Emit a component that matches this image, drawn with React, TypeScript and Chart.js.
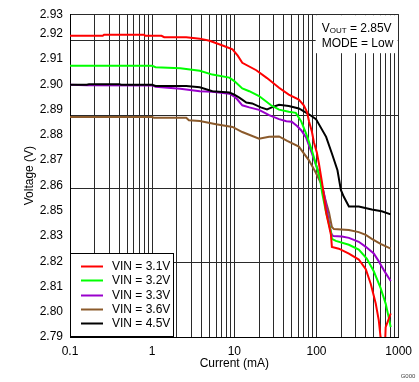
import React, { useEffect, useRef } from 'react';
import { Chart, registerables } from 'chart.js';

Chart.register(...registerables);

// ---- data: [current (mA), voltage (V)] ----
const vin31: [number, number][] = [
  [0.1, 2.9206], [0.25, 2.9206], [0.26, 2.9211], [0.8, 2.9211], [0.82, 2.9206], [1.3, 2.9206],
  [1.4, 2.92], [2.6, 2.92], [3.8, 2.9194], [5.0, 2.9185], [7.2, 2.9164], [9.5, 2.9148],
  [11, 2.912], [12.5, 2.9089], [18.5, 2.9057], [25, 2.9023], [35, 2.8981], [46, 2.8951],
  [61, 2.893], [70, 2.8905], [77, 2.8874], [81, 2.8836], [88, 2.879], [93, 2.8745],
  [101, 2.87], [107, 2.8653], [117, 2.8568], [131, 2.844], [150, 2.8343], [154, 2.8291],
  [187, 2.8283], [248, 2.8262], [327, 2.8236], [398, 2.8194], [458, 2.813], [526, 2.8045],
  [573, 2.7972], [602, 2.79], [640, 2.785], [680, 2.785], [695, 2.7943], [800, 2.8002],
];
const vin32: [number, number][] = [
  [0.1, 2.9076], [1.0, 2.9076], [1.1, 2.907], [2.2, 2.9066], [3.8, 2.9055], [5.4, 2.9038],
  [8.7, 2.9025], [10, 2.901], [12.5, 2.8978], [15.2, 2.8966], [20, 2.8945], [28, 2.8905],
  [35, 2.8886], [46, 2.8877], [56, 2.8872], [65, 2.8836], [75, 2.8781], [88, 2.8709],
  [100, 2.864], [110, 2.859], [117, 2.8526], [131, 2.844], [150, 2.8355], [154, 2.8326],
  [172, 2.8317], [248, 2.83], [327, 2.8279], [409, 2.824], [498, 2.8185], [602, 2.8113],
  [695, 2.8045], [757, 2.7985], [800, 2.7943],
];
const vin33: [number, number][] = [
  [0.1, 2.8994], [0.16, 2.8992], [1.0, 2.8991], [1.1, 2.8985], [2.2, 2.8977], [3.8, 2.8966],
  [5.4, 2.8964], [8.7, 2.8955], [10, 2.8943], [10.9, 2.893], [12.5, 2.8905], [15.2, 2.8896],
  [20, 2.8885], [26.5, 2.8862], [35, 2.8845], [43, 2.8836], [50, 2.8834], [58, 2.8815],
  [65, 2.8797], [75, 2.8764], [88, 2.8696], [107, 2.8611], [123, 2.8526], [142, 2.8398],
  [150, 2.8355], [154, 2.8343], [160, 2.8338], [204, 2.8336], [248, 2.833], [327, 2.8313],
  [398, 2.8291], [498, 2.8262], [573, 2.8228], [695, 2.8177], [800, 2.8143],
];
const vin36: [number, number][] = [
  [0.1, 2.8854], [1.0, 2.8854], [1.05, 2.8851], [2.6, 2.8851], [2.8, 2.884], [3.8, 2.8837],
  [6, 2.8823], [9.5, 2.8811], [12.5, 2.8789], [20, 2.876], [26.5, 2.8768], [35, 2.877],
  [44, 2.8751], [61, 2.8726], [81, 2.8666], [98.6, 2.8611], [113, 2.8568], [131, 2.8483],
  [142, 2.844], [154, 2.8377], [163, 2.8368], [248, 2.8364], [327, 2.8355], [398, 2.8343],
  [471, 2.8326], [602, 2.8304], [800, 2.8283],
];
const vin45: [number, number][] = [
  [0.1, 2.8994], [0.16, 2.8994], [0.17, 2.8996], [0.4, 2.8996], [0.42, 2.8994], [1.0, 2.8994],
  [1.1, 2.8989], [2.6, 2.8989], [3.8, 2.8983], [5.4, 2.8966], [8.7, 2.896], [10, 2.8951],
  [11.5, 2.8938], [14, 2.8917], [16.5, 2.8913], [21, 2.8896], [25, 2.8887], [30.5, 2.89],
  [35, 2.8907], [46, 2.8902], [61, 2.8891], [81, 2.8866], [98.6, 2.8845], [131, 2.8768],
  [154, 2.8696], [180, 2.8623], [198, 2.8538], [215, 2.8508], [248, 2.8466], [327, 2.8466],
  [471, 2.8453], [622, 2.8445], [800, 2.8432],
];

const seriesData = [vin31, vin32, vin33, vin36, vin45];
const seriesLabels = ['VIN = 3.1V', 'VIN = 3.2V', 'VIN = 3.3V', 'VIN = 3.6V', 'VIN = 4.5V'];
const seriesColors = ['#ff0000', '#00ff00', '#9900cc', '#8b5a2b', '#000000'];
const seriesOrder = [0, 0, 1, 1, 0];

// ---- axes ----
const xDecades = [0.1, 1, 10, 100];
const xMultipliers = [1, 2, 3, 4, 5, 6, 7, 8, 9];
const xMax = 1000;
const yMin = 2.79;
const yMax = 2.93;
const yTickLabels = ['2.79', '2.80', '2.81', '2.82', '2.83', '2.85', '2.86', '2.87', '2.88', '2.89', '2.90', '2.91', '2.92', '2.93'];
const yLabelStep = 0.01096;
const yGridValues = [2.8223, 2.8543, 2.8862, 2.9185, 2.93];

const FONT = "'Liberation Sans', Arial, sans-serif";
const GRID = '#2a2a2a';

const xTickValues: number[] = [];
xDecades.forEach((d) => xMultipliers.forEach((m) => xTickValues.push(d * m)));
xTickValues.push(xMax);

const yLabelValues = yTickLabels.map((_, i) => (i === yTickLabels.length - 1 ? yMax : yMin + i * yLabelStep));

const near = (a: number, b: number) => Math.abs(a - b) < 1e-6;

const overlayPlugin = {
  id: 'overlays',
  afterDatasetsDraw(chart: any) {
    const { ctx, chartArea: a } = chart;
    ctx.save();
    // legend box (bottom-left inside plot)
    const lw = 104;
    const lh = 84;
    const lx = a.left;
    const ly = a.bottom - lh;
    ctx.fillStyle = '#ffffff';
    ctx.fillRect(lx, ly, lw, lh);
    ctx.strokeStyle = '#000000';
    ctx.lineWidth = 1;
    ctx.strokeRect(lx + 0.5, ly + 0.5, lw - 1, lh - 1);
    ctx.font = `12px ${FONT}`;
    ctx.textBaseline = 'middle';
    ctx.textAlign = 'left';
    chart.data.datasets.forEach((ds: any, i: number) => {
      const y = Math.round(ly + 13 + i * 14.3) + 0.5;
      ctx.strokeStyle = ds.borderColor;
      ctx.lineWidth = 2;
      ctx.beginPath();
      ctx.moveTo(lx + 11, y);
      ctx.lineTo(lx + 33, y);
      ctx.stroke();
      ctx.fillStyle = '#000000';
      ctx.fillText(ds.label, lx + 42, y);
    });
    // annotation box (top-right)
    const bx = a.right - 83;
    ctx.fillStyle = '#ffffff';
    ctx.fillRect(bx, a.top + 1, 82, 38);
    ctx.fillStyle = '#000000';
    let tx = bx + 6;
    const y1 = a.top + 14;
    ctx.font = `12px ${FONT}`;
    ctx.fillText('V', tx, y1);
    tx += ctx.measureText('V').width;
    ctx.font = `8px ${FONT}`;
    ctx.fillText('OUT', tx, y1 + 3);
    tx += ctx.measureText('OUT').width;
    ctx.font = `12px ${FONT}`;
    ctx.fillText(' = 2.85V', tx, y1);
    ctx.fillText('MODE = Low', bx + 6, a.top + 29);
    // figure code
    ctx.font = `6px ${FONT}`;
    ctx.fillStyle = '#444444';
    ctx.fillText('G000', a.right + 2, a.bottom + 39);
    ctx.restore();
  },
};

export default function App() {
  const ref = useRef<HTMLCanvasElement | null>(null);

  useEffect(() => {
    if (!ref.current) return;
    Chart.defaults.font.family = FONT;
    Chart.defaults.font.size = 12;
    Chart.defaults.color = '#000000';
    const chart = new Chart(ref.current, {
      type: 'line',
      data: {
        datasets: seriesData.map((d, i) => ({
          label: seriesLabels[i],
          data: d.map(([x, y]) => ({ x, y })),
          borderColor: seriesColors[i],
          backgroundColor: seriesColors[i],
          borderWidth: 2,
          pointRadius: 0,
          tension: 0,
          fill: false,
          clip: 0,
          order: seriesOrder[i],
        })),
      },
      options: {
        animation: false,
        responsive: false,
        devicePixelRatio: 1,
        layout: { padding: { left: 0, right: 19, top: 8, bottom: 0 } },
        plugins: { legend: { display: false }, tooltip: { enabled: false } },
        scales: {
          x: {
            type: 'logarithmic',
            min: 0.1,
            max: xMax,
            afterBuildTicks: (scale: any) => {
              scale.ticks = xTickValues.map((v) => ({ value: v }));
            },
            afterFit: (scale: any) => {
              scale.height = 45;
            },
            ticks: {
              autoSkip: false,
              maxRotation: 0,
              padding: 7,
              color: '#000000',
              font: { size: 12 },
              callback: (v: any) => {
                const l = Math.log10(Number(v));
                return Math.abs(l - Math.round(l)) < 1e-9 ? String(Number(v)) : '';
              },
            },
            grid: { color: GRID, lineWidth: 1, drawTicks: false },
            border: { display: true, color: '#000000', width: 1 },
            title: { display: true, text: 'Current (mA)', font: { size: 12 }, color: '#000000', padding: { top: 0, bottom: 11 } },
          },
          y: {
            type: 'linear',
            min: yMin,
            max: yMax,
            afterBuildTicks: (scale: any) => {
              const vals = [...yLabelValues];
              yGridValues.forEach((g) => {
                if (!vals.some((v) => near(v, g))) vals.push(g);
              });
              vals.sort((p, q) => p - q);
              scale.ticks = vals.map((v) => ({ value: v }));
            },
            afterFit: (scale: any) => {
              scale.width = 70;
            },
            ticks: {
              autoSkip: false,
              padding: 7,
              color: '#000000',
              font: { size: 12 },
              callback: (v: any) => {
                const idx = yLabelValues.findIndex((lv) => near(lv, Number(v)));
                return idx >= 0 ? yTickLabels[idx] : '';
              },
            },
            grid: {
              drawTicks: false,
              lineWidth: 1,
              color: (c: any) => (c.tick && yGridValues.some((g) => near(g, c.tick.value)) ? GRID : 'rgba(0,0,0,0)'),
            },
            border: { display: true, color: '#000000', width: 1 },
            title: { display: true, text: 'Voltage (V)', font: { size: 12 }, color: '#000000', padding: { top: 22, bottom: 0 } },
          },
        },
      },
      plugins: [overlayPlugin],
    } as any);
    return () => chart.destroy();
  }, []);

  return (
    <div style={{ position: 'absolute', left: 0, top: 0, width: 419, height: 382, background: '#ffffff' }}>
      <canvas ref={ref} width={419} height={382} />
    </div>
  );
}
